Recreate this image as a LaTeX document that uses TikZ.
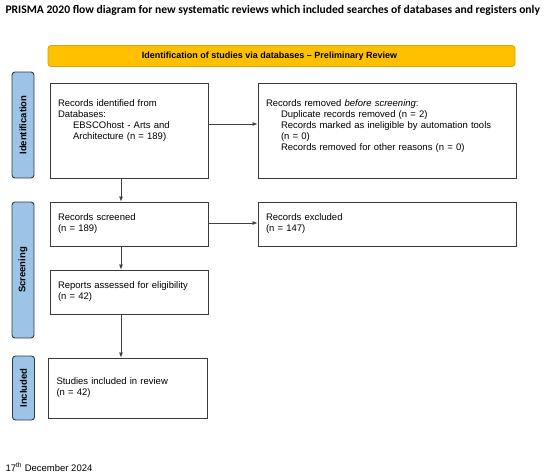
\documentclass[tikz,border=0pt]{standalone}
\usepackage{fontspec}
\setmainfont{Liberation Sans}
\newfontfamily\titlefont{Carlito}
\usetikzlibrary{arrows.meta}
\definecolor{phaseblue}{HTML}{9DC3E6}
\definecolor{phaseline}{HTML}{2E3B4A}
\definecolor{headyellow}{HTML}{FFC000}
\definecolor{headline}{HTML}{D9A300}
\definecolor{boxline}{HTML}{3A3A3A}
\tikzset{%
  >={Latex[width=4pt,length=5pt]},
  % Specifications for style of nodes:
        record/.style = {rectangle, draw=boxline, line width=0.9pt,
                         minimum width=158, text width=142, inner xsep=8,
                         align=left, font=\fontsize{9.5}{11}\selectfont},
         phase/.style = {rectangle, rounded corners=3, draw=phaseline,
                         line width=0.9pt, fill=phaseblue, minimum width=22,
                         font=\fontsize{9.5}{11}\selectfont\bfseries},
        header/.style = {rectangle, rounded corners=3, draw=headline,
                         line width=0.8pt, fill=headyellow,
                         minimum width=467, minimum height=21,
                         font=\fontsize{9}{11}\selectfont\bfseries},
          flow/.style = {->, draw=black!75, line width=0.7pt},
}
\begin{document}
\begin{tikzpicture}[x=1pt, y=-1pt]
  \useasboundingbox (0,0) rectangle (550,475);
  % Title, header and date
  \node (title) [anchor=west, font=\titlefont\fontsize{11.6}{14}\selectfont\bfseries]
        at (2,10) {PRISMA 2020 flow diagram for new systematic reviews which included searches of databases and registers only};
  \node (head) [header] at (281.5,56) {Identification of studies via databases -- Preliminary Review\kern24pt\null};
  \node (date) [anchor=west, font=\fontsize{9.5}{11}\selectfont] at (2,467) {17\textsuperscript{th} December 2024};
  % Phases on the left
  \node (phaseIdent)  [phase, minimum height=106] at (23,125)   {\rotatebox{90}{Identification}};
  \node (phaseScreen) [phase, minimum height=136] at (23,270)   {\rotatebox{90}{Screening}};
  \node (phaseIncl)   [phase, minimum height=64]  at (23.5,388) {\rotatebox{90}{Included}};
  % Record boxes
  \node (identified) [record, minimum height=95] at (129,130.5)
        {Records identified from\\Databases:\\\hspace{15pt}EBSCOhost - Arts and\\\hspace{15pt}Architecture (n = 189)\\~\\~};
  \node (removed) [record, minimum width=258, text width=242, minimum height=95] at (387,130.5)
        {Records removed \emph{before screening}:\\\hspace{15pt}Duplicate records removed (n = 2)\\\hspace{15pt}Records marked as ineligible by automation tools\\\hspace{15pt}(n = 0)\\\hspace{15pt}Records removed for other reasons (n = 0)\\~};
  \node (screened) [record, minimum height=44] at (129,224)
        {Records screened\\(n = 189)};
  \node (excluded) [record, minimum width=258, text width=242, minimum height=44] at (387,224)
        {Records excluded\\(n = 147)};
  \node (assessed) [record, minimum height=44] at (129,292)
        {Reports assessed for eligibility\\(n = 42)};
  \node (included) [record, minimum width=159, minimum height=60] at (127.5,388)
        {Studies included in review\\(n = 42)};
  % Connectors
  \draw[flow] (identified.east |- 0,124) -- (removed.west |- 0,124);
  \draw[flow] (identified.south -| 121,0) -- (screened.north -| 121,0);
  \draw[flow] (screened.east |- 0,223) -- (excluded.west |- 0,223);
  \draw[flow] (screened.south -| 121,0) -- (assessed.north -| 121,0);
  \draw[flow] (assessed.south -| 121,0) -- (included.north -| 121,0);
\end{tikzpicture}
\end{document}
